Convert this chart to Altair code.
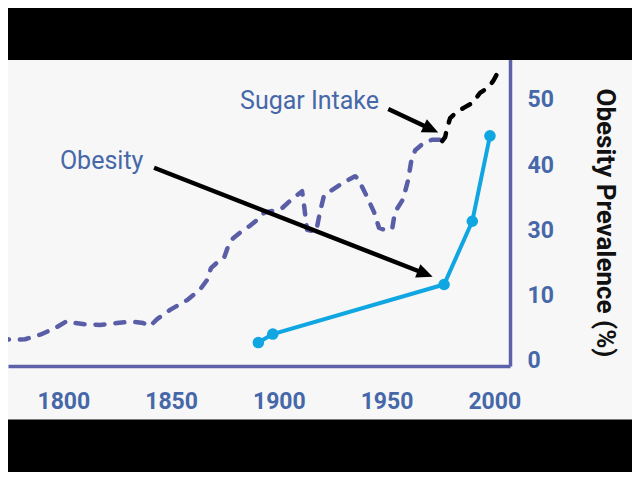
import math
import altair as alt
import pandas as pd

# ---------------- data ----------------
# Historic sugar intake (purple dashed line), plotted on the obesity axis units
sugar_years = [1770.6, 1776.1, 1782.2, 1789.2, 1796.1, 1801.7, 1805.4, 1810.1, 1817.0,
               1824.9, 1831.9, 1837.0, 1840.2, 1843.5, 1849.5, 1857.4, 1863.4, 1866.7,
               1868.5, 1871.8, 1874.6, 1876.4, 1878.8, 1882.9, 1886.6, 1890.3, 1893.1,
               1897.3, 1901.5, 1906.1, 1910.8, 1911.7, 1913.1, 1917.3, 1919.1, 1921.0,
               1925.2, 1929.8, 1935.4, 1936.8, 1941.0, 1944.2, 1946.5, 1948.9, 1952.6,
               1953.9, 1957.7, 1960.0, 1961.4, 1963.3, 1966.9, 1971.1, 1974.8]
sugar_values = [13.5, 13.2, 13.3, 14.0, 15.0, 16.1, 15.8, 15.6, 15.5,
                15.8, 16.0, 15.8, 15.3, 16.4, 17.8, 19.3, 20.9, 22.4,
                24.2, 25.2, 25.8, 27.5, 28.8, 29.9, 30.7, 31.7, 32.7,
                33.0, 33.4, 34.8, 36.0, 33.9, 30.1, 29.8, 32.8, 35.4,
                36.3, 37.3, 38.3, 37.9, 35.1, 32.8, 30.4, 30.1, 30.2,
                32.8, 34.8, 37.7, 40.5, 42.3, 43.3, 43.9, 43.9]

# Recent sugar intake (black dashed line)
recent_years = [1975.8, 1977.2, 1978.1, 1979.5, 1982.7, 1986.4, 1989.7, 1991.6,
                1993.4, 1996.7, 1999.5, 2002.3]
recent_values = [43.7, 44.3, 45.7, 47.2, 48.2, 48.9, 49.5, 50.3, 51.1, 51.8, 52.9, 54.6]

# Obesity prevalence (blue line with dots)
obesity_years = [1890.5, 1897.2, 1976.7, 1989.8, 1998.0]
obesity_values = [12.8, 14.1, 21.7, 31.4, 44.5]

# Axis ticks and labels
x_ticks = [1800, 1850, 1900, 1950, 2000]
y_tick_values = [10, 20, 30, 40, 50]
y_tick_labels = ["0", "10", "30", "40", "50"]

# Annotations
annot_text = ["Obesity", "Sugar Intake"]
annot_x = [1798.4, 1882.0]
annot_y = [39.4, 48.6]

arrow_x0 = [1842.1, 1950.8]
arrow_y0 = [39.6, 48.6]
arrow_x1 = [1971.4, 1974.0]
arrow_y1 = [22.9, 45.0]

# ---------------- layout / styling ----------------
W, H = 502, 358
X_DOM = [1774.3, 2007.3]
Y_DOM = [9.2, 64.1]
BG = "#f7f7f7"
PURPLE = "#5a5ea7"
AXIS_COL = "#5d61aa"
BLUE_TXT = "#4668a8"
OBESITY_COL = "#0fa6e2"
FONT = "Roboto"

ppx = W / (X_DOM[1] - X_DOM[0])
ppy = H / (Y_DOM[1] - Y_DOM[0])

xs = alt.Scale(domain=X_DOM, nice=False, zero=False)
ys = alt.Scale(domain=Y_DOM, nice=False, zero=False)

label_expr = " : ".join(
    f"datum.value == {v} ? '{t}'" for v, t in zip(y_tick_values, y_tick_labels)
) + " : ''"

x_axis = alt.Axis(values=x_ticks, format="d", title=None, grid=False, ticks=False,
                  tickSize=0, labelPadding=24, labelFont=FONT, labelFontSize=23,
                  labelFontWeight="bold", labelColor=BLUE_TXT, domainColor=AXIS_COL,
                  domainWidth=3.5)
y_axis = alt.Axis(orient="right", values=y_tick_values, labelExpr=label_expr,
                  grid=False, ticks=False, tickSize=0, labelPadding=17,
                  labelFont=FONT, labelFontSize=23, labelFontWeight="bold",
                  labelColor=BLUE_TXT, domainColor=AXIS_COL, domainWidth=3.5,
                  title="Obesity Prevalence (%)", titleFont=FONT, titleFontSize=26,
                  titleFontWeight="bold", titleColor="#111111", titleAngle=90,
                  titleAlign="right", titleBaseline="alphabetic", titleX=86, titleY=349)

sugar_df = pd.DataFrame({"year": sugar_years, "value": sugar_values})
recent_df = pd.DataFrame({"year": recent_years, "value": recent_values})
ob_df = pd.DataFrame({"year": obesity_years, "value": obesity_values})

# arrows: shaft shortened so that it ends inside the arrow head
heads = []
for x0, y0, x1, y1 in zip(arrow_x0, arrow_y0, arrow_x1, arrow_y1):
    dx = (x1 - x0) * ppx
    dy = -(y1 - y0) * ppy
    L = math.hypot(dx, dy)
    k = 10.0 / L
    heads.append({
        "x0": x0, "y0": y0, "x1": x1, "y1": y1,
        "xs": x1 - (x1 - x0) * k, "ys": y1 - (y1 - y0) * k,
        "angle": math.degrees(math.atan2(dx, -dy)) % 360,
    })
arrow_df = pd.DataFrame(heads)
annot_df = pd.DataFrame({"text": annot_text, "x": annot_x, "y": annot_y})

sugar = alt.Chart(sugar_df).mark_line(
    color=PURPLE, strokeWidth=4.5, strokeDash=[9, 11], strokeCap="round",
    strokeJoin="round", clip=True
).encode(
    x=alt.X("year:Q", scale=xs, axis=x_axis),
    y=alt.Y("value:Q", scale=ys, axis=y_axis),
    order="year:Q",
)

recent = alt.Chart(recent_df).mark_line(
    color="#000000", strokeWidth=4.5, strokeDash=[9, 11], strokeCap="round",
    strokeJoin="round", clip=True
).encode(x=alt.X("year:Q", scale=xs), y=alt.Y("value:Q", scale=ys), order="year:Q")

ob_line = alt.Chart(ob_df).mark_line(color=OBESITY_COL, strokeWidth=4).encode(
    x=alt.X("year:Q", scale=xs), y=alt.Y("value:Q", scale=ys))
ob_pts = alt.Chart(ob_df).mark_circle(color=OBESITY_COL, size=135, opacity=1).encode(
    x=alt.X("year:Q", scale=xs), y=alt.Y("value:Q", scale=ys))

shafts = alt.Chart(arrow_df).mark_rule(color="#000000", strokeWidth=4.5).encode(
    x=alt.X("x0:Q", scale=xs), y=alt.Y("y0:Q", scale=ys),
    x2="xs:Q", y2="ys:Q")
tips = alt.Chart(arrow_df).mark_point(
    shape="M0,0L0.9,2L-0.9,2Z", filled=True, color="#000000", size=256, opacity=1,
    strokeWidth=0
).encode(x=alt.X("x1:Q", scale=xs), y=alt.Y("y1:Q", scale=ys),
         angle=alt.Angle("angle:Q", scale=None))

labels = alt.Chart(annot_df).mark_text(
    font=FONT, fontSize=25, color=BLUE_TXT, align="left", baseline="alphabetic"
).encode(x=alt.X("x:Q", scale=xs), y=alt.Y("y:Q", scale=ys), text="text:N")

bar_df = pd.DataFrame({"k": [0]})
top_bar = alt.Chart(bar_df).mark_rect(color="#000000").encode(
    x=alt.value(-20), x2=alt.value(700), y=alt.value(-20), y2=alt.value(52))
bottom_bar = alt.Chart(bar_df).mark_rect(color="#000000").encode(
    x=alt.value(-20), x2=alt.value(700), y=alt.value(411.5), y2=alt.value(520))

chart = alt.layer(
    sugar, recent, ob_line, ob_pts, shafts, tips, labels, top_bar, bottom_bar
).properties(
    width=W, height=H, background=BG,
    padding={"left": 0, "top": 0, "right": 122, "bottom": 106},
    autosize=alt.AutoSizeParams(type="none"),
).configure_view(strokeWidth=0)

chart.save("out.html", embed_options={"renderer": "svg", "actions": False})
